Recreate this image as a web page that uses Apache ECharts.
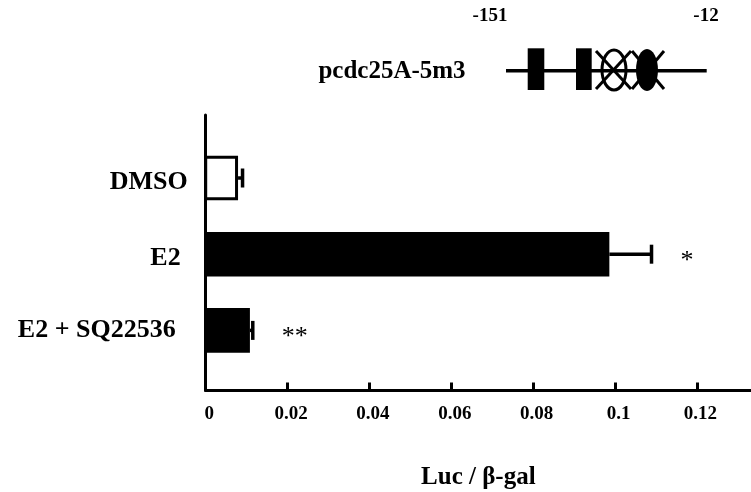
<!DOCTYPE html>
<html>
<head>
<meta charset="utf-8">
<script src="https://cdn.jsdelivr.net/npm/echarts@6/dist/echarts.min.js"></script>
<style>html,body{margin:0;padding:0;background:#fff}#c{width:751px;height:492px}</style>
</head>
<body>
<div id="c"></div>
<script>
// ---- data ----
const categories = ['DMSO', 'E2', 'E2 + SQ22536'];
const means = [0.0079, 0.0986, 0.0108];
const errors = [0.0011, 0.0103, 0.0007];
const significance = ['', '*', '**'];
const xTicks = [0, 0.02, 0.04, 0.06, 0.08, 0.1, 0.12];
const constructName = 'pcdc25A-5m3';
const promoterEnds = ['-151', '-12'];
const xAxisTitle = 'Luc / β-gal';

const SERIF = '"Liberation Serif", "Times New Roman", serif';
const chart = echarts.init(document.getElementById('c'), null, {renderer: 'canvas'});

const barData = means.map((m, i) => [m, i]);
const errData = errors.map((e, i) => [means[i], means[i] + e, i, significance[i]]);

function renderBar(params, api) {
  const i = api.value(1);
  const start = api.coord([0, i]);
  const end = api.coord([api.value(0), i]);
  const h = api.size([0, 1])[1] * 0.585;
  const hollow = params.dataIndex === 0;
  const lw = 3;
  if (hollow) {
    return {
      type: 'rect',
      shape: {x: start[0], y: start[1] - h / 2 + lw / 2, width: end[0] - start[0] - lw / 2, height: h - lw},
      style: {fill: '#fff', stroke: '#000', lineWidth: lw}
    };
  }
  return {
    type: 'rect',
    shape: {x: start[0], y: start[1] - h / 2, width: end[0] - start[0], height: h},
    style: {fill: '#000'}
  };
}

function renderErr(params, api) {
  const i = api.value(2);
  const a = api.coord([api.value(0), i]);
  const b = api.coord([api.value(1), i]);
  const capH = 19;
  const children = [
    {type: 'line', shape: {x1: a[0], y1: a[1], x2: b[0], y2: b[1]}, style: {stroke: '#000', lineWidth: 3.5}},
    {type: 'line', shape: {x1: b[0], y1: b[1] - capH / 2, x2: b[0], y2: b[1] + capH / 2}, style: {stroke: '#000', lineWidth: 3.5}}
  ];
  const sig = significance[params.dataIndex];
  if (sig) {
    children.push({
      type: 'text',
      style: {
        text: sig, x: b[0] + 29, y: b[1] + 7,
        align: 'left', verticalAlign: 'middle',
        font: 'normal 26px ' + SERIF, fill: '#000'
      }
    });
  }
  return {type: 'group', children: children};
}

const option = {
  animation: false,
  backgroundColor: '#fff',
  grid: {left: 205.7, top: 115, right: 0, bottom: 101.5, containLabel: false, outerBoundsMode: 'none'},
  xAxis: {
    type: 'value', min: 0, max: 0.1332,
    axisLine: {show: true, onZero: false, lineStyle: {color: '#000', width: 3}},
    axisTick: {show: true, inside: true, length: 8, customValues: xTicks, lineStyle: {color: '#000', width: 3}},
    axisLabel: {
      customValues: xTicks, margin: 14, color: '#000',
      fontFamily: SERIF, fontWeight: 'bold', fontSize: 19,
      padding: [0, 0, 0, 7],
      formatter: v => String(+v.toFixed(4))
    },
    splitLine: {show: false},
    name: xAxisTitle, nameLocation: 'middle', nameGap: 75,
    nameTextStyle: {color: '#000', fontFamily: SERIF, fontWeight: 'bold', fontSize: 25}
  },
  yAxis: {
    type: 'value', inverse: true, min: -0.827, max: 2.789,
    axisLine: {show: true, onZero: false, lineStyle: {color: '#000', width: 3}},
    axisTick: {show: false},
    splitLine: {show: false},
    axisLabel: {
      customValues: [0, 1, 2], margin: 18, color: '#000',
      fontFamily: SERIF, fontWeight: 'bold', fontSize: 26,
      formatter: v => { const k = Math.round(v); return '{c' + k + '|' + categories[k] + '}'; },
      rich: {
        c0: {fontFamily: SERIF, fontWeight: 'bold', fontSize: 26, padding: [8, 0, 0, 0]},
        c1: {fontFamily: SERIF, fontWeight: 'bold', fontSize: 26, padding: [8, 7, 0, 0]},
        c2: {fontFamily: SERIF, fontWeight: 'bold', fontSize: 26, padding: [0, 12, 0, 0]}
      }
    }
  },
  graphic: [
    {type: 'text', x: 392, y: 72, style: {text: constructName, align: 'center', verticalAlign: 'middle', font: 'bold 25px ' + SERIF, fill: '#000'}},
    {type: 'text', x: 490, y: 16, style: {text: promoterEnds[0], align: 'center', verticalAlign: 'middle', font: 'bold 19px ' + SERIF, fill: '#000'}},
    {type: 'text', x: 706, y: 16, style: {text: promoterEnds[1], align: 'center', verticalAlign: 'middle', font: 'bold 19px ' + SERIF, fill: '#000'}},
    {type: 'line', shape: {x1: 506, y1: 70.7, x2: 706.7, y2: 70.7}, style: {stroke: '#000', lineWidth: 3.5}},
    {type: 'rect', shape: {x: 527.7, y: 48.3, width: 16.6, height: 41.7}, style: {fill: '#000'}},
    {type: 'rect', shape: {x: 576, y: 48.3, width: 15.7, height: 41.7}, style: {fill: '#000'}},
    {type: 'ellipse', shape: {cx: 614, cy: 70, rx: 12, ry: 20}, style: {fill: 'none', stroke: '#000', lineWidth: 3}},
    {type: 'line', shape: {x1: 596, y1: 89, x2: 631, y2: 51}, style: {stroke: '#000', lineWidth: 3}},
    {type: 'line', shape: {x1: 596, y1: 51, x2: 631, y2: 89}, style: {stroke: '#000', lineWidth: 3}},
    {type: 'ellipse', shape: {cx: 647, cy: 70, rx: 11, ry: 21}, style: {fill: '#000'}},
    {type: 'line', shape: {x1: 632, y1: 89, x2: 664, y2: 51}, style: {stroke: '#000', lineWidth: 3}},
    {type: 'line', shape: {x1: 632, y1: 51, x2: 664, y2: 89}, style: {stroke: '#000', lineWidth: 3}}
  ],
  series: [
    {type: 'custom', renderItem: renderBar, data: barData, encode: {x: 0, y: 1}, clip: false, z: 2},
    {type: 'custom', renderItem: renderErr, data: errData, encode: {x: [0, 1], y: 2}, clip: false, z: 3}
  ]
};
chart.setOption(option);
</script>
</body>
</html>
